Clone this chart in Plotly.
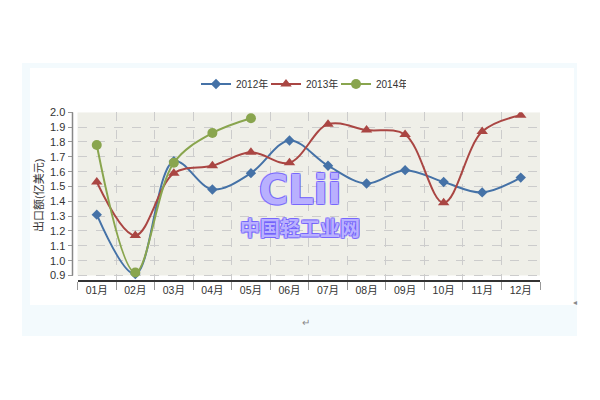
import plotly.graph_objects as go

months = ["01月", "02月", "03月", "04月", "05月", "06月", "07月", "08月", "09月", "10月", "11月", "12月"]
s2012 = [1.31, 0.91, 1.67, 1.48, 1.59, 1.81, 1.64, 1.52, 1.61, 1.53, 1.46, 1.56]
s2013 = [1.53, 1.17, 1.59, 1.64, 1.73, 1.66, 1.92, 1.88, 1.85, 1.39, 1.87, 1.98]
s2014 = [1.78, 0.92, 1.66, 1.86, 1.96]
names = ["2012年", "2013年", "2014年"]
colors = ["#4572A7", "#AA4643", "#89A54E"]
symbols = ["diamond", "triangle-up", "circle"]
msizes = [8, 10, 10]
y_min, y_max = 0.9, 2.0

# page body has an 8px margin; figure sized so the page fits the window
OFF = 8
W, H = 592, 392
def px(x):
    return (x - OFF) / W
def py(y):
    return 1 - (y - OFF) / H

# plot geometry (pixels in the window)
top_px, min_px, axis_px = 112.3, 275.5, 281.0
ppu = (min_px - top_px) / (y_max - y_min)
range_lo = y_min - (axis_px - min_px) / ppu

font = "Liberation Sans, Noto Sans CJK SC, sans-serif"
wm = "#6a58ff"
outline = ", ".join(f"{dx}px {dy}px 0 {wm}" for dx, dy in [(1, 0), (-1, 0), (0, 1), (0, -1), (1, 1), (-1, -1), (1, -1), (-1, 1)])

fig = go.Figure()
for name, vals, c, s, ms in zip(names, [s2012, s2013, s2014], colors, symbols, msizes):
    fig.add_trace(go.Scatter(
        x=months[:len(vals)], y=vals, name=name, mode="lines+markers",
        line=dict(color=c, width=2, shape="spline", smoothing=1.0),
        marker=dict(symbol=s, size=ms, color=c),
    ))

shapes = [
    dict(type="rect", xref="paper", yref="paper", x0=px(22), x1=px(577), y0=py(336), y1=py(63),
         fillcolor="#f3fafd", line=dict(width=0), layer="below"),
    dict(type="rect", xref="paper", yref="paper", x0=px(30), x1=px(574), y0=py(305), y1=py(68),
         fillcolor="#ffffff", line=dict(width=0), layer="below"),
    dict(type="rect", xref="paper", yref="y", x0=px(77.5), x1=px(540), y0=y_min, y1=y_max,
         fillcolor="#efefe8", line=dict(width=0), layer="below"),
    dict(type="line", xref="paper", yref="y", x0=px(72.5), x1=px(72.5), y0=y_min, y1=y_max,
         line=dict(color="#888888", width=1.5)),
]

def ann(text, x, y, **kw):
    d = dict(text=text, xref="paper", yref="paper", x=px(x), y=py(y), showarrow=False,
             xanchor="center", yanchor="middle")
    d.update(kw)
    return d

annotations = [
    ann("<b>CLii</b>", 300, 190,
        font=dict(family="DejaVu Sans", size=40, color="rgba(255,255,255,0.55)", shadow=outline)),
    ann("<b>中国轻工业网</b>", 300, 227,
        font=dict(family="Noto Sans CJK SC", size=20, color="rgba(255,255,255,0.55)", shadow=outline)),
    ann("出口额(亿美元)", 38, 196, textangle=-90, font=dict(family=font, size=11, color="#333333")),
    ann("↵", 306, 322, font=dict(family=font, size=10, color="#888888")),
    ann("◂", 575, 302, font=dict(family=font, size=8, color="#888888")),
]

fig.update_layout(
    width=W, height=H,
    margin=dict(l=0, r=0, t=0, b=0, autoexpand=False),
    paper_bgcolor="#ffffff", plot_bgcolor="rgba(0,0,0,0)",
    font=dict(family=font, size=11, color="#333333"),
    showlegend=True,
    legend=dict(orientation="h", x=px(301), xanchor="center", y=py(84), yanchor="middle",
                font=dict(size=10, color="#333333"), bgcolor="rgba(0,0,0,0)", itemwidth=30,
                entrywidth=25, entrywidthmode="pixels"),
    shapes=shapes, annotations=annotations,
    xaxis=dict(domain=[px(77.5), px(540)], anchor="free", position=py(axis_px),
               type="category", categoryorder="array", categoryarray=months,
               range=[-0.5, 11.5], tickson="boundaries",
               showline=True, linecolor="#333333", linewidth=1.5,
               ticks="outside", ticklen=8, tickcolor="#999999",
               showgrid=True, gridcolor="#cccccc", griddash="dash", gridwidth=1,
               tickfont=dict(size=10.5, color="#333333"), zeroline=False, fixedrange=True),
    yaxis=dict(domain=[py(axis_px), py(top_px)], anchor="free", position=px(72.5),
               range=[range_lo, y_max], dtick=0.1, tick0=y_min, tickformat=".1f",
               showline=False,
               ticks="outside", ticklen=5, tickcolor="#999999",
               showgrid=True, gridcolor="#cccccc", griddash="dash", gridwidth=1,
               tickfont=dict(size=11, color="#333333"), zeroline=False, fixedrange=True),
)

fig.write_html("out.html")
